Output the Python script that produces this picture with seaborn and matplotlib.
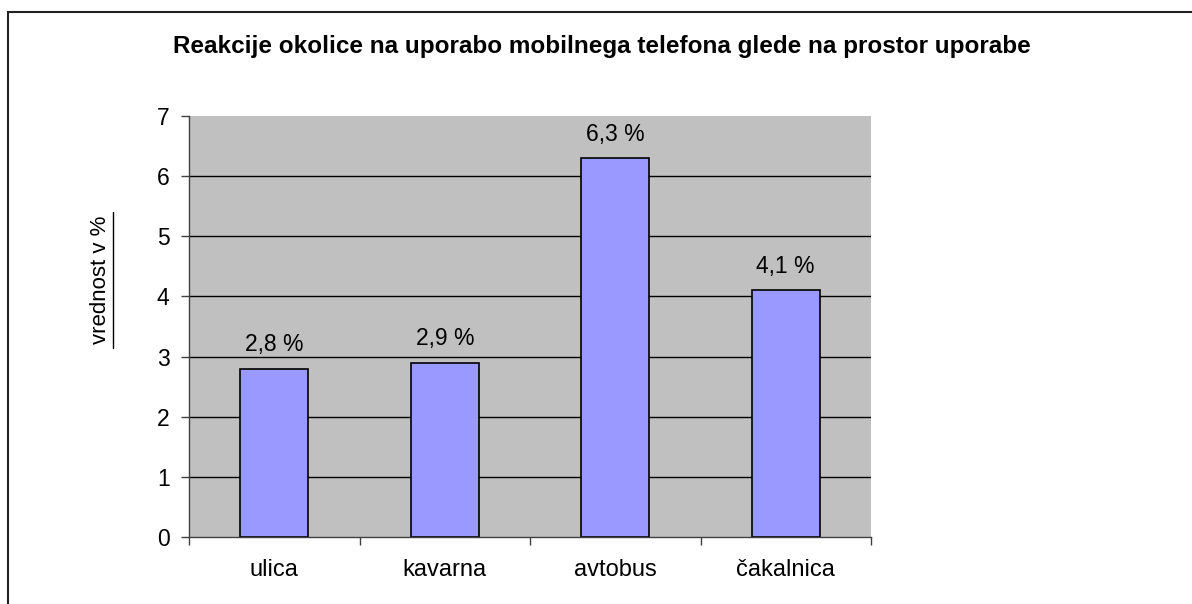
import matplotlib
matplotlib.use("Agg")
import matplotlib.pyplot as plt
import seaborn as sns
import pandas as pd
from matplotlib.patches import Rectangle
from matplotlib.lines import Line2D

categories = ["ulica", "kavarna", "avtobus", "čakalnica"]
values = [2.8, 2.9, 6.3, 4.1]
value_labels = ["2,8 %", "2,9 %", "6,3 %", "4,1 %"]
yticks = [0, 1, 2, 3, 4, 5, 6, 7]
title = "Reakcije okolice na uporabo mobilnega telefona glede na prostor uporabe"
ylabel = "vrednost v %"

sns.set_style("white")
plt.rcParams["font.family"] = ["Liberation Sans", "DejaVu Sans"]
plt.rcParams["text.color"] = "black"
plt.rcParams["xtick.color"] = "black"
plt.rcParams["ytick.color"] = "black"
plt.rcParams["xtick.labelcolor"] = "black"
plt.rcParams["ytick.labelcolor"] = "black"

W, H = 1192, 604
fig = plt.figure(figsize=(W / 100, H / 100), dpi=100)
fig.patch.set_facecolor("white")

ax = fig.add_axes([189 / W, 1 - 537 / H, (871 - 189) / W, (537 - 116) / H])
ax.set_facecolor("#C0C0C0")

df = pd.DataFrame({"cat": categories, "val": values})
sns.barplot(data=df, x="cat", y="val", color="#9999FF", width=0.4,
            edgecolor="black", linewidth=1.2, saturation=1, ax=ax, zorder=3)

ax.set_xlim(-0.5, len(categories) - 0.5)
ax.set_ylim(0, 7)
ax.set_yticks(yticks)
ax.set_yticklabels([str(t) for t in yticks], fontsize=16.5)
for t in yticks[1:-1]:
    ax.axhline(t, color="black", lw=1.0, zorder=1)

# category labels at centres, tick marks at boundaries
ax.set_xticks(range(len(categories)))
ax.set_xticklabels(categories, fontsize=17)
ax.tick_params(axis="x", which="major", length=0, pad=16)
ax.set_xticks([i - 0.5 for i in range(len(categories) + 1)], minor=True)
ax.tick_params(axis="x", which="minor", length=6, width=1, color="#404040", direction="out", bottom=True)
ax.tick_params(axis="y", length=6, width=1, color="#404040", labelcolor="black", direction="out", pad=8, left=True)

ax.set_xlabel("")
ax.set_ylabel("")

for s in ["top", "right"]:
    ax.spines[s].set_visible(False)
for s in ["left", "bottom"]:
    ax.spines[s].set_color("#404040")
    ax.spines[s].set_linewidth(1.0)
    ax.spines[s].set_zorder(5)

ax.bar_label(ax.containers[0], labels=value_labels, padding=9, fontsize=16.5, color="black")

# title
fig.text(602 / W, 1 - 46 / H, title, ha="center", va="center", fontsize=17.5,
         fontweight="bold", color="black")

# y label with underline
fig.text(101 / W, 1 - 280 / H, ylabel, ha="center", va="center", rotation=90,
         fontsize=16, color="black")
fig.add_artist(Line2D([113 / W, 113 / W], [1 - 212 / H, 1 - 348 / H], transform=fig.transFigure,
                      color="black", lw=1.0))

# outer chart border (left and top visible)
fig.add_artist(Rectangle((8 / W, -0.2), 2, 1.2 - 12 / H, transform=fig.transFigure,
                         fill=False, edgecolor="#222222", lw=1.5))

fig.savefig("out.png", dpi=100, facecolor="white")
